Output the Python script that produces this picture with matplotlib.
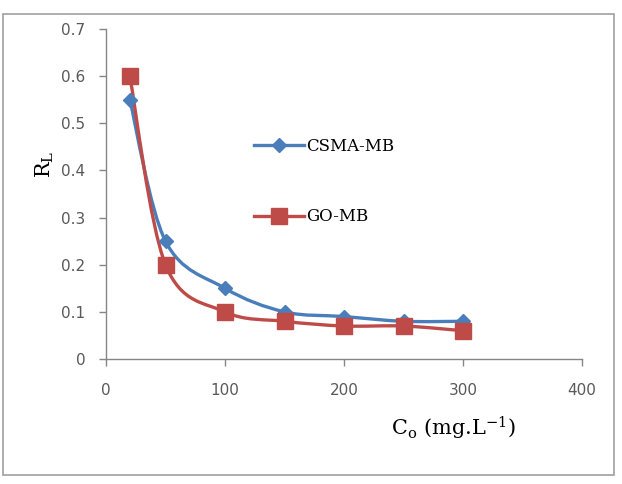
import numpy as np
import matplotlib.pyplot as plt
from matplotlib.path import Path
from matplotlib.patches import PathPatch, Rectangle
from matplotlib.lines import Line2D

plt.rcParams['mathtext.fontset'] = 'dejavuserif'

co = [20, 50, 100, 150, 200, 250, 300]
rl_csma = [0.55, 0.25, 0.15, 0.10, 0.09, 0.08, 0.08]
rl_go = [0.60, 0.20, 0.10, 0.08, 0.07, 0.07, 0.06]

blue = '#4a7ebb'
red = '#be4b48'
grey = '#868686'
tick_col = '#595959'


def smooth_path(xs, ys):
    # excel style smoothing: catmull-rom turned into bezier segments
    p = np.column_stack([xs, ys]).astype(float)
    pts = np.vstack([p[0], p, p[-1]])
    verts = [p[0]]
    codes = [Path.MOVETO]
    for i in range(1, len(pts) - 2):
        c1 = pts[i] + (pts[i + 1] - pts[i - 1]) / 6
        c2 = pts[i + 1] - (pts[i + 2] - pts[i]) / 6
        verts += [c1, c2, pts[i + 1]]
        codes += [Path.CURVE4] * 3
    return Path(verts, codes)


fig = plt.figure(figsize=(6.22, 4.84), dpi=100)
fig.patches.append(Rectangle((3 / 622, 9 / 484), 611 / 622, 461 / 484,
                             transform=fig.transFigure, fill=False,
                             edgecolor='#a0a0a0', lw=1.2))
ax = fig.add_axes([106 / 622, 125 / 484, 476 / 622, 330 / 484])

for ys, col, mk, ms in [(rl_csma, blue, 'D', 7), (rl_go, red, 's', 11)]:
    ax.add_patch(PathPatch(smooth_path(co, ys), fill=False, edgecolor=col,
                           lw=2.4, capstyle='round'))
    ax.plot(co, ys, linestyle='none', marker=mk, ms=ms, color=col, zorder=3)

ax.set_xlim(0, 400)
ax.set_ylim(0, 0.7)
ax.set_xticks([0, 100, 200, 300, 400])
ax.set_yticks(np.arange(0, 0.71, 0.1))
ax.set_yticklabels(['0', '0.1', '0.2', '0.3', '0.4', '0.5', '0.6', '0.7'])
for s in ['top', 'right']:
    ax.spines[s].set_visible(False)
for s in ['left', 'bottom']:
    ax.spines[s].set_color(grey)
    ax.spines[s].set_linewidth(1.0)
ax.tick_params(colors=grey, labelcolor=tick_col, labelsize=11, length=5, width=1.0)
ax.tick_params(axis='x', pad=12)
ax.tick_params(axis='y', pad=10)

ax.set_xlabel(r'C$_\mathrm{o}$ (mg.L$^{\mathrm{-1}}$)', family='serif', fontsize=15)
ax.xaxis.set_label_coords(0.73, -0.17)
ax.set_ylabel(r'R$_\mathrm{L}$', family='serif', fontsize=15)
ax.yaxis.set_label_coords(-0.105, 0.59)

handles = [Line2D([], [], color=blue, lw=2.4, marker='D', ms=7),
           Line2D([], [], color=red, lw=2.4, marker='s', ms=11)]
leg = ax.legend(handles, ['CSMA-MB', 'GO-MB'], loc='upper left',
                bbox_to_anchor=(0.28, 0.715), frameon=False, handlelength=3.0,
                handletextpad=0.1, labelspacing=3.2,
                prop={'family': 'serif', 'size': 12})

fig.savefig('out.png', dpi=100)
